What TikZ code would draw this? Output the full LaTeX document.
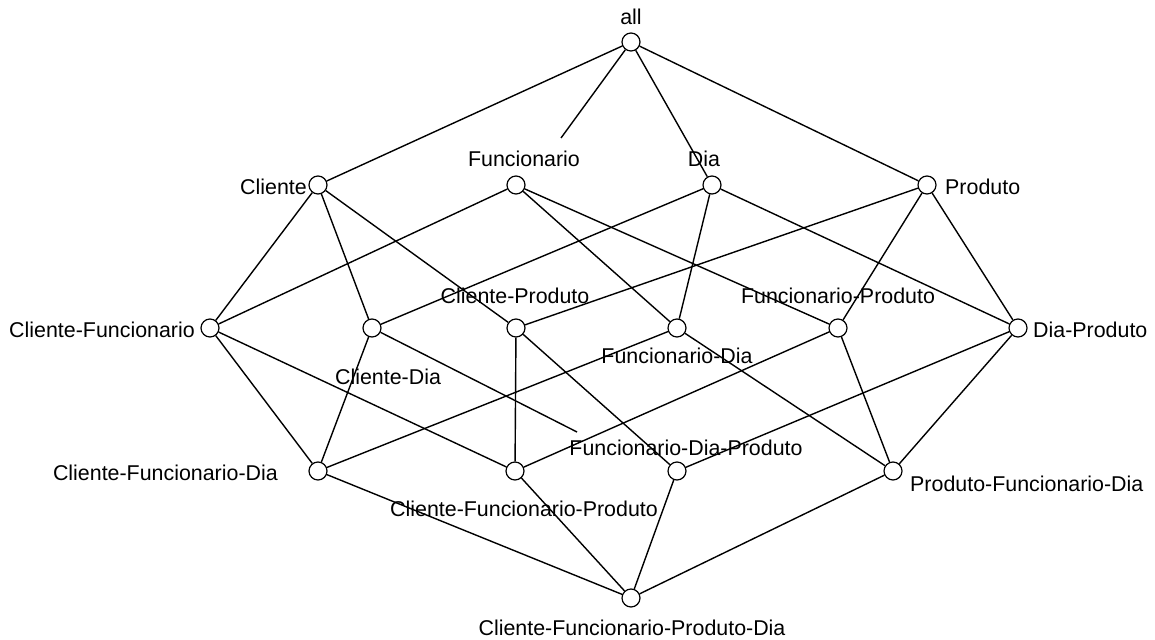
\documentclass[tikz,border=0pt]{standalone}
\usepackage{fontspec}
\setmainfont{Liberation Sans}
\begin{document}
\begin{tikzpicture}[x=1pt,y=-1pt,
  vertex/.style={circle,draw=black,fill=white,line width=1.2pt,inner sep=0pt,minimum size=18pt},
  lbl/.style={font=\fontsize{21.4}{24}\selectfont,inner sep=0pt,text=black},
  link/.style={draw=black,line width=1.4pt}]
\useasboundingbox (0,0) rectangle (1155,639);

% lattice vertices
\node[vertex] (all)  at (631,42)  {};
\node[vertex] (C)    at (318,185) {};
\node[vertex] (F)    at (516,185) {};
\node[vertex] (D)    at (712,185) {};
\node[vertex] (P)    at (927,185) {};
\node[vertex] (CF)   at (210,328) {};
\node[vertex] (CD)   at (372,328) {};
\node[vertex] (CP)   at (516,328) {};
\node[vertex] (FD)   at (677,328) {};
\node[vertex] (FP)   at (838,328) {};
\node[vertex] (DP)   at (1018,328) {};
\node[vertex] (CFD)  at (318,471) {};
\node[vertex] (CFP)  at (515,471) {};
\node[vertex] (FDP)  at (677,471) {};
\node[vertex] (PFD)  at (893,471) {};
\node[vertex] (CFPD) at (631,598) {};

% free line ends next to two labels
\coordinate (fEnd)   at (561,138);
\coordinate (fdpEnd) at (577,432);

% labels
\node[lbl] (lall)  at (631,17)  {all};
\node[lbl, anchor=east] (lC) at (307,187) {Cliente};
\node[lbl] (lF)    at (524,159) {Funcionario};
\node[lbl] (lD)    at (704,159) {Dia};
\node[lbl, anchor=west] (lP) at (945,187) {Produto};
\node[lbl, anchor=east] (lCF) at (195,330) {Cliente-Funcionario};
\node[lbl] (lCD)   at (388,377) {Cliente-Dia};
\node[lbl] (lCP)   at (515,296) {Cliente-Produto};
\node[lbl] (lFD)   at (677,356) {Funcionario-Dia};
\node[lbl] (lFP)   at (838,296) {Funcionario-Produto};
\node[lbl, anchor=west] (lDP) at (1033,330) {Dia-Produto};
\node[lbl, anchor=east] (lCFD) at (278,473) {Cliente-Funcionario-Dia};
\node[lbl] (lCFP)  at (524,509) {Cliente-Funcionario-Produto};
\node[lbl] (lFDP)  at (686,448) {Funcionario-Dia-Produto};
\node[lbl, anchor=west] (lPFD) at (910,484) {Produto-Funcionario-Dia};
\node[lbl] (lCFPD) at (632,628) {Cliente-Funcionario-Produto-Dia};

% connectors
\draw[link] (all) -- (C);
\draw[link] (all) -- (fEnd);
\draw[link] (all) -- (D);
\draw[link] (all) -- (P);

\draw[link] (C) -- (CF);
\draw[link] (C) -- (CD);
\draw[link] (C) -- (CP);
\draw[link] (F) -- (CF);
\draw[link] (F) -- (FD);
\draw[link] (F) -- (FP);
\draw[link] (D) -- (CD);
\draw[link] (D) -- (FD);
\draw[link] (D) -- (DP);
\draw[link] (P) -- (CP);
\draw[link] (P) -- (FP);
\draw[link] (P) -- (DP);

\draw[link] (CF) -- (CFD);
\draw[link] (CF) -- (CFP);
\draw[link] (CD) -- (CFD);
\draw[link] (CD) -- (fdpEnd);
\draw[link] (CP) -- (CFP);
\draw[link] (CP) -- (FDP);
\draw[link] (FD) -- (CFD);
\draw[link] (FD) -- (PFD);
\draw[link] (FP) -- (CFP);
\draw[link] (FP) -- (PFD);
\draw[link] (DP) -- (FDP);
\draw[link] (DP) -- (PFD);

\draw[link] (CFD) -- (CFPD);
\draw[link] (CFP) -- (CFPD);
\draw[link] (FDP) -- (CFPD);
\draw[link] (PFD) -- (CFPD);
\end{tikzpicture}
\end{document}
